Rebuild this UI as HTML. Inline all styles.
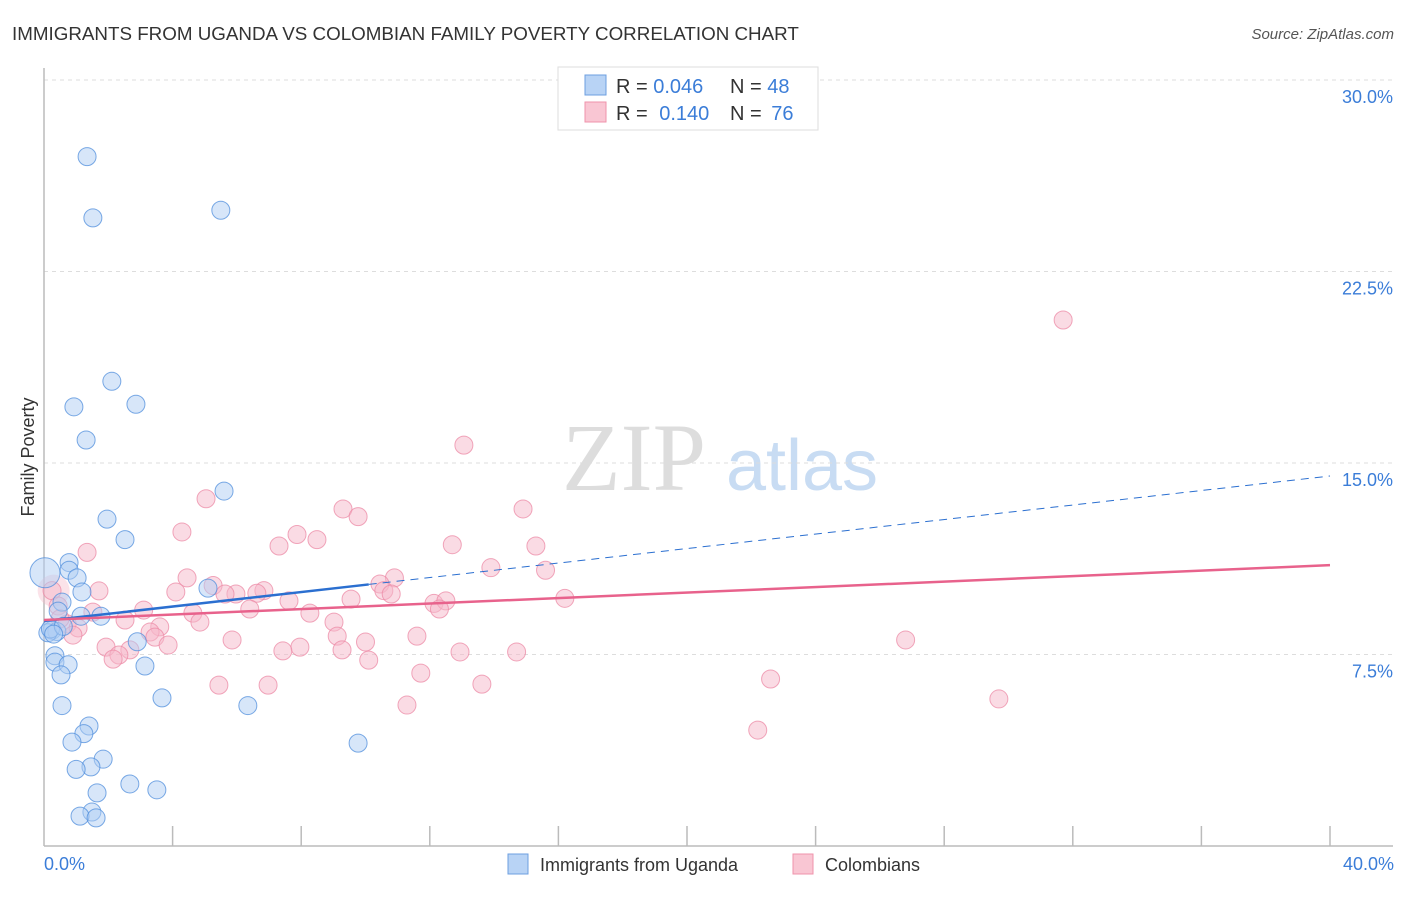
<!DOCTYPE html>
<html><head><meta charset="utf-8">
<style>
body{margin:0;background:#fff;font-family:"Liberation Sans",sans-serif;}
</style></head>
<body>
<svg width="1406" height="892" xmlns="http://www.w3.org/2000/svg" font-family="Liberation Sans, sans-serif">
<text x="12" y="40" font-size="18.8" fill="#333">IMMIGRANTS FROM UGANDA VS COLOMBIAN FAMILY POVERTY CORRELATION CHART</text>
<text x="1394" y="39" font-size="15" fill="#555" text-anchor="end" font-style="italic">Source: ZipAtlas.com</text>
<g>
<text x="634" y="490" font-size="96" fill="#ddd" text-anchor="middle" font-family="Liberation Serif, serif">ZIP</text>
<text x="802" y="490" font-size="72" fill="#c8dcf3" text-anchor="middle">atlas</text>
</g>
<g id="grid"></g>
<g id="axes"></g>
<g id="pts"></g>
<g id="trend"></g>
<text transform="translate(34,457) rotate(-90)" font-size="18" fill="#333" text-anchor="middle">Family Poverty</text>
<text x="44" y="870" font-size="18" fill="#3b7dd8">0.0%</text>
<text x="1394" y="870" font-size="18" fill="#3b7dd8" text-anchor="end">40.0%</text>
<g>
<rect x="558" y="67" width="260" height="63" fill="#fff" stroke="#ddd"/>
<rect x="585" y="75" width="21" height="20" fill="#b8d3f5" stroke="#6d9fe0"/>
<rect x="585" y="102" width="21" height="20" fill="#f9c6d3" stroke="#ef93ab"/>
<text x="616" y="93" font-size="20" fill="#333">R = <tspan fill="#3b7dd8">0.046</tspan></text>
<text x="730" y="93" font-size="20" fill="#333">N = <tspan fill="#3b7dd8">48</tspan></text>
<text x="616" y="120" font-size="20" fill="#333">R = <tspan fill="#3b7dd8" dx="6">0.140</tspan></text>
<text x="730" y="120" font-size="20" fill="#333">N = <tspan fill="#3b7dd8" dx="4">76</tspan></text>
</g>
<g>
<rect x="508" y="854" width="20" height="20" fill="#b8d3f5" stroke="#6d9fe0"/>
<text x="540" y="871" font-size="18" fill="#333">Immigrants from Uganda</text>
<rect x="793" y="854" width="20" height="20" fill="#f9c6d3" stroke="#ef93ab"/>
<text x="825" y="871" font-size="18" fill="#333">Colombians</text>
</g>
</svg>
<script>
const yTicks=[7.5,15,22.5,30];
const yTickLabels=["7.5%","15.0%","22.5%","30.0%"];
const xTicks=[4,8,12,16,20,24,28,32,36,40];
const blueX=[1.34,1.52,5.5,2.11,2.86,0.93,1.31,5.6,1.96,2.52,0.78,0.78,1.03,0.03,1.18,5.1,0.56,0.44,1.15,1.77,0.25,0.4,0.12,2.9,0.34,0.34,0.75,3.14,0.53,0.56,3.67,6.34,1.4,1.24,0.87,9.77,1.84,1.46,1.0,2.67,3.51,1.65,1.49,1.12,1.62,0.2,0.6,0.3];
const blueY=[27.0,24.6,24.9,18.2,17.3,17.2,15.9,13.9,12.8,12.0,11.1,10.8,10.5,10.7,9.95,10.1,9.55,9.2,9.0,9.0,8.45,8.4,8.35,8.0,7.45,7.2,7.1,7.05,6.7,5.5,5.8,5.5,4.7,4.4,4.07,4.03,3.4,3.1,3.0,2.43,2.2,2.08,1.33,1.17,1.1,8.5,8.6,8.3];
const blueR=[9,9,9,9,9,9,9,9,9,9,9,9,9,15,9,9,9,9,9,9,9,9,9,9,9,9,9,9,9,9,9,9,9,9,9,9,9,9,9,9,9,9,9,9,9,9,9,9];
const pinkX=[31.7,13.06,5.04,9.3,14.9,9.77,4.29,7.87,8.49,7.31,12.7,15.3,1.34,13.9,15.6,4.45,10.9,10.45,5.26,0.25,1.71,4.1,6.84,6.62,10.57,10.8,5.97,5.63,16.2,7.62,9.55,12.13,12.5,12.3,0.44,6.4,3.1,1.52,4.63,8.27,4.85,2.52,9.02,0.72,1.06,3.6,0.9,3.3,3.45,11.6,9.12,5.85,10.0,26.8,3.86,1.93,7.96,2.67,7.43,9.27,12.94,14.7,2.33,2.15,10.1,11.72,22.6,5.44,6.97,13.62,29.7,11.29,22.2,0.5];
const pinkY=[20.6,15.7,13.6,13.2,13.2,12.9,12.3,12.2,12.0,11.75,11.8,11.75,11.5,10.9,10.8,10.5,10.5,10.26,10.2,10.0,9.99,9.95,10.0,9.9,10.0,9.87,9.87,9.87,9.7,9.6,9.67,9.5,9.6,9.28,9.4,9.28,9.24,9.16,9.12,9.12,8.77,8.85,8.77,8.7,8.54,8.58,8.26,8.38,8.18,8.22,8.22,8.07,7.99,8.07,7.87,7.79,7.79,7.68,7.64,7.68,7.6,7.6,7.48,7.32,7.28,6.77,6.54,6.3,6.3,6.34,5.76,5.52,4.54,8.9];
const blueTrend=[8.81,14.49], blueSolidEnd=10.1;
const pinkTrend=[8.85,11.0];
const NS="http://www.w3.org/2000/svg";
const X=v=>44+v/40*1286, Y=v=>846-v/30*766;
function mk(t,a,p){const e=document.createElementNS(NS,t);for(const k in a)e.setAttribute(k,a[k]);p.appendChild(e);return e;}
const grid=document.getElementById('grid'),axes=document.getElementById('axes'),pts=document.getElementById('pts'),tr=document.getElementById('trend');
yTicks.forEach((v,i)=>{
 const l=mk('line',{x1:44,x2:1393,y1:Y(v),y2:Y(v),stroke:'#ddd','stroke-dasharray':'4,4'},grid);
 
 
 const t=mk('text',{x:1393,y:Y(v)+23,'font-size':18,fill:'#3b7dd8','text-anchor':'end'},grid);
 t.textContent=yTickLabels[i];
 
 
});
let a=mk('line',{x1:44,x2:44,y1:68,y2:846,stroke:'#bbb','stroke-width':1.5},axes);


a=mk('line',{x1:44,x2:1393,y1:846,y2:846,stroke:'#bbb','stroke-width':1.5},axes);


xTicks.forEach(v=>{
 const t=mk('line',{x1:X(v),x2:X(v),y1:826,y2:846,stroke:'#bbb','stroke-width':1.5},axes);
 
 
});
function dots(xs,ys,rs,fill,stroke,name){xs.forEach((x,i)=>{
 const c=mk('circle',{cx:X(x),cy:Y(ys[i]),r:rs?rs[i]:9,fill:fill,'fill-opacity':0.5,stroke:stroke,'stroke-opacity':0.75,'stroke-width':1},pts);
 
 
});}
const big=mk('circle',{cx:X(0.3),cy:Y(10.0),r:16,fill:'#f6b8c9','fill-opacity':0.4},pts);


dots(pinkX,pinkY,null,'#f6b8c9','#ec8aa6','colombians-point');
dots(blueX,blueY,blueR,'#b0cef3','#4f8ddc','uganda-point');
const by=x=>blueTrend[0]+(blueTrend[1]-blueTrend[0])*x/40;
let l=mk('line',{x1:X(0),y1:Y(blueTrend[0]),x2:X(blueSolidEnd),y2:Y(by(blueSolidEnd)),stroke:'#2b6fd0','stroke-width':2.5},tr);


l=mk('line',{x1:X(blueSolidEnd),y1:Y(by(blueSolidEnd)),x2:X(40),y2:Y(blueTrend[1]),stroke:'#2b6fd0','stroke-width':1,'stroke-dasharray':'8,6'},tr);


l=mk('line',{x1:X(0),y1:Y(pinkTrend[0]),x2:X(40),y2:Y(pinkTrend[1]),stroke:'#e8628c','stroke-width':2.5},tr);


</script>
</body></html>
